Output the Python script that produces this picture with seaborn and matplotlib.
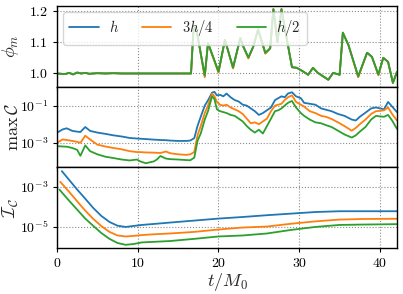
import numpy as np
import pandas as pd
import matplotlib
matplotlib.use("Agg")
import matplotlib.pyplot as plt
import seaborn as sns

# ---------------- data ----------------
series = ["$h$", "$3h/4$", "$h/2$"]
colors = ["#1f77b4", "#ff7f0e", "#2ca02c"]

# top panel: phi_m
t_phi = [0, 0.5, 1.0, 1.5, 2.0, 2.5, 3.0, 3.5, 4.0, 5, 6, 7, 8, 9, 10, 11, 12, 13, 14, 15, 16,
         16.6, 16.9, 17.2, 18.3, 18.7, 20.0, 20.8, 21.8, 22.7, 23.0, 23.7, 24.3, 24.9, 25.8,
         26.4, 26.8, 27.3, 27.8, 28.1, 29.1, 29.7, 30.5, 31.1, 31.7, 32.3, 33.6, 34.2, 35.0,
         35.4, 36.1, 37.3, 38.4, 39.0, 39.8, 40.4, 41.0, 41.6, 42.1]
phi_h = [1.0, 0.999, 0.998, 1.002, 0.997, 1.003, 1.0, 1.002, 0.999, 1.001, 1.0, 1.001, 1.0, 1.0,
         1.0, 1.0, 1.0, 1.0, 1.0, 1.0, 1.0,
         1.0, 1.14, 1.15, 0.992, 1.097, 1.005, 1.107, 1.018, 1.113, 1.09, 1.05, 1.085, 1.14, 1.065,
         1.08, 1.205, 1.10, 1.205, 1.16, 1.02, 1.018, 1.006, 0.996, 1.018, 1.002, 0.98, 1.002, 0.996,
         1.13, 1.09, 0.99, 1.066, 1.053, 0.996, 1.05, 1.037, 0.97, 1.005]
phi_3h4 = [1.0, 0.999, 0.998, 1.002, 0.997, 1.003, 1.0, 1.002, 0.999, 1.001, 1.0, 1.001, 1.0, 1.0,
           1.0, 1.0, 1.0, 1.0, 1.0, 1.0, 1.0,
           1.0, 1.14, 1.15, 0.988, 1.097, 1.003, 1.107, 1.016, 1.113, 1.09, 1.048, 1.085, 1.14, 1.063,
           1.08, 1.205, 1.10, 1.205, 1.16, 1.02, 1.018, 1.006, 0.996, 1.018, 1.002, 0.98, 1.002, 0.996,
           1.13, 1.09, 0.988, 1.066, 1.053, 0.994, 1.05, 1.037, 0.97, 1.005]
phi_h2 = [1.0, 0.999, 0.998, 1.002, 0.997, 1.003, 1.0, 1.002, 0.999, 1.001, 1.0, 1.001, 1.0, 1.0,
          1.0, 1.0, 1.0, 1.0, 1.0, 1.0, 1.0,
          1.0, 1.14, 1.15, 0.994, 1.097, 1.006, 1.107, 1.019, 1.113, 1.09, 1.051, 1.085, 1.14, 1.066,
          1.08, 1.205, 1.10, 1.205, 1.16, 1.02, 1.018, 1.006, 0.996, 1.018, 1.002, 0.98, 1.002, 0.996,
          1.13, 1.09, 0.991, 1.066, 1.053, 0.997, 1.05, 1.037, 0.97, 1.005]

# middle panel: log10(max C)
t_C = [0, 0.7, 1.2, 1.9, 2.5, 2.9, 3.5, 4.1, 5, 6, 7, 8, 9, 9.9, 10.3, 11, 12, 12.4, 12.8, 13.5,
       14, 15, 16, 16.5, 17.0, 17.4, 17.8, 18.3, 18.7, 19.2, 19.5, 19.8, 20.2, 20.6, 21.0, 21.5,
       22.0, 22.5, 23.0, 23.5, 24.0, 24.5, 25.0, 25.5, 26.0, 26.5, 27.0, 27.4, 27.8, 28.2, 28.6,
       29.1, 29.6, 30.2, 30.6, 31.3, 32.0, 32.7, 33.3, 34.0, 34.8, 35.6, 36.5, 37.0, 37.5, 38.2,
       38.9, 39.5, 40.0, 40.5, 41.0, 41.5, 42.1]
logC_h = [-2.46, -2.28, -2.22, -2.36, -2.40, -2.42, -2.15, -2.36, -2.45, -2.52, -2.60, -2.66, -2.74,
          -2.77, -2.78, -2.80, -2.83, -2.84, -2.85, -2.86, -2.88, -2.90, -2.90, -2.88, -2.75, -2.10,
          -1.60, -1.00, -0.72, -0.30, -0.26, -0.45, -0.42, -0.50, -0.35, -0.55, -0.70, -0.78, -0.95,
          -1.00, -1.15, -1.30, -1.50, -1.40, -1.25, -1.10, -0.70, -0.60, -0.50, -0.55, -0.35, -0.28,
          -0.50, -0.60, -0.85, -0.90, -0.95, -1.15, -1.22, -1.30, -1.45, -1.55, -1.75, -1.80, -1.60,
          -1.38, -1.15, -1.10, -1.15, -1.20, -0.80, -1.05, -1.35]
logC_3h4 = [-3.00, -2.82, -2.85, -2.90, -2.95, -3.00, -2.62, -2.82, -3.10, -3.20, -3.28, -3.35, -3.45,
            -3.50, -3.50, -3.52, -3.53, -3.54, -3.55, -3.47, -3.56, -3.62, -3.65, -3.62, -3.50, -2.60,
            -2.10, -1.40, -1.00, -0.35, -0.50, -0.80, -0.95, -1.00, -0.95, -1.10, -1.20, -1.30, -1.45,
            -1.70, -1.95, -1.90, -2.00, -1.85, -1.70, -1.30, -1.00, -0.95, -0.90, -0.70, -0.55, -0.45,
            -0.80, -0.95, -1.05, -1.30, -1.40, -1.55, -1.60, -1.72, -1.90, -2.10, -2.35, -2.20, -2.00,
            -1.75, -1.45, -1.30, -1.28, -1.25, -1.10, -1.45, -1.80]
logC_h2 = [-3.18, -3.20, -3.21, -3.28, -3.38, -3.70, -3.14, -3.45, -3.62, -3.75, -3.82, -3.90, -3.95,
           -3.90, -4.00, -4.10, -4.00, -3.89, -3.71, -3.85, -3.88, -3.90, -3.93, -3.94, -3.80, -2.90,
           -2.50, -1.75, -1.30, -0.50, -0.65, -1.20, -1.30, -1.35, -1.40, -1.50, -1.55, -1.70, -1.85,
           -2.10, -2.30, -2.45, -2.30, -2.50, -2.10, -1.70, -1.30, -1.25, -1.15, -1.00, -0.85, -0.75,
           -1.10, -1.40, -1.55, -1.75, -1.90, -1.95, -2.05, -2.15, -2.35, -2.55, -2.72, -2.60, -2.40,
           -2.15, -1.75, -1.55, -1.58, -1.60, -1.50, -1.80, -2.25]

# bottom panel: log10(I_C)
t_I_h = [0.6, 1.5, 2.5, 3.5, 4.5, 5.5, 6.5, 7.5, 8.5, 9.5, 10.5, 12, 14, 17, 20, 23, 26, 29, 32, 35, 38, 42.1]
t_I_3h4 = [0.4, 1.5, 2.5, 3.5, 4.5, 5.5, 6.5, 7.5, 8.5, 9.5, 10.5, 12, 14, 17, 20, 23, 26, 29, 32, 35, 38, 42.1]
t_I_h2 = [0.3, 1.5, 2.5, 3.5, 4.5, 5.5, 6.5, 7.5, 8.5, 9.5, 10.5, 12, 14, 17, 20, 23, 26, 29, 32, 35, 38, 42.1]
logI_h = [-2.21, -2.65, -3.14, -3.60, -4.07, -4.47, -4.77, -4.96, -5.02, -4.97, -4.92, -4.87, -4.80,
          -4.70, -4.60, -4.52, -4.43, -4.35, -4.27, -4.23, -4.23, -4.23]
logI_3h4 = [-2.75, -3.25, -3.73, -4.20, -4.62, -4.98, -5.27, -5.45, -5.50, -5.47, -5.43, -5.39, -5.35,
            -5.27, -5.15, -5.05, -5.00, -4.86, -4.74, -4.65, -4.62, -4.61]
logI_h2 = [-3.14, -3.70, -4.15, -4.60, -4.97, -5.33, -5.62, -5.83, -5.92, -5.88, -5.80, -5.77, -5.73,
           -5.62, -5.50, -5.45, -5.35, -5.17, -5.02, -4.92, -4.90, -4.88]


def long_df(ts, ys, log=False):
    frames = []
    for name, t, y in zip(series, ts, ys):
        y = np.asarray(y, dtype=float)
        frames.append(pd.DataFrame({"t": t, "v": 10 ** y if log else y, "run": name}))
    return pd.concat(frames, ignore_index=True)


df_phi = long_df([t_phi] * 3, [phi_h, phi_3h4, phi_h2])
df_C = long_df([t_C] * 3, [logC_h, logC_3h4, logC_h2], log=True)
df_I = long_df([t_I_h, t_I_3h4, t_I_h2], [logI_h, logI_3h4, logI_h2], log=True)

# ---------------- style ----------------
sns.set_style("ticks")
plt.rcParams.update({
    "font.family": ["cmr10", "DejaVu Serif"],
    "mathtext.fontset": "cm",
    "axes.formatter.use_mathtext": True,
    "axes.unicode_minus": False,
    "axes.edgecolor": "black",
    "axes.linewidth": 1.0,
    "xtick.color": "black",
    "ytick.color": "black",
})

fig, axes = plt.subplots(3, 1, sharex=True, figsize=(4.03, 2.94), dpi=100)
fig.subplots_adjust(left=0.1414, right=0.985, top=0.9796, bottom=0.1565, hspace=0)

palette = dict(zip(series, colors))
for i, (ax, df) in enumerate(zip(axes, [df_phi, df_C, df_I])):
    sns.lineplot(data=df, x="t", y="v", hue="run", hue_order=series, palette=palette,
                 estimator=None, sort=True, linewidth=1.3, ax=ax, legend=(i == 0))
    ax.grid(True, linestyle=":", color="0.55", linewidth=0.8)
    ax.set_xlim(0, 42.1)
    ax.tick_params(labelsize=10, length=3, width=0.8)

ax0, ax1, ax2 = axes
ax0.set_ylim(0.958, 1.215)
ax0.set_yticks([1.0, 1.1, 1.2])
ax0.set_ylabel(r"$\phi_m$", fontsize=13)

ax1.set_yscale("log")
ax1.set_ylim(10 ** -4.32, 10 ** 0.02)
ax1.set_yticks([1e-3, 1e-1])
ax1.minorticks_off()
ax1.set_ylabel(r"$\max\,\mathcal{C}$", fontsize=13)

ax2.set_yscale("log")
ax2.set_ylim(10 ** -6.08, 10 ** -2.02)
ax2.set_yticks([1e-5, 1e-3])
ax2.minorticks_off()
ax2.set_ylabel(r"$\mathcal{I}_\mathcal{C}$", fontsize=13)
ax2.set_xticks([0, 10, 20, 30, 40])
ax2.set_xlabel(r"$t/M_0$", fontsize=13, labelpad=1)

for ax in axes:
    ax.yaxis.set_label_coords(-0.105, 0.5)

leg = ax0.legend(loc="upper left", ncol=3, fontsize=10.5, frameon=True, handlelength=2.0,
                 handletextpad=0.7, columnspacing=1.6, borderaxespad=0.4, borderpad=0.45)
leg.get_frame().set_alpha(0.8)
leg.get_frame().set_edgecolor("0.8")
leg.set_title(None)

fig.savefig("out.png", dpi=100)
